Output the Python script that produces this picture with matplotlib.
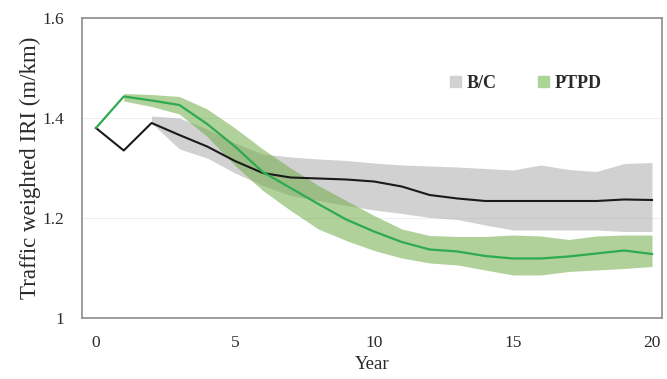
import matplotlib
matplotlib.use("Agg")
import matplotlib.pyplot as plt
from matplotlib.patches import Patch

# data
years = list(range(0, 21))
bc_mean = [1.380, 1.335, 1.390, 1.366, 1.343, 1.314, 1.290, 1.281, 1.279, 1.277, 1.273,
           1.263, 1.246, 1.239, 1.234, 1.234, 1.234, 1.234, 1.234, 1.237, 1.236]
ptpd_mean = [1.380, 1.443, 1.435, 1.426, 1.388, 1.343, 1.292, 1.260, 1.228, 1.197, 1.173,
             1.152, 1.137, 1.133, 1.124, 1.119, 1.119, 1.123, 1.129, 1.135, 1.128]

# bands (B/C starts at year 2, PTPD at year 1)
bc_years = list(range(2, 21))
bc_upper = [1.404, 1.400, 1.378, 1.350, 1.328, 1.322, 1.318, 1.315, 1.310, 1.306, 1.304,
            1.302, 1.299, 1.296, 1.306, 1.297, 1.293, 1.309, 1.311]
bc_lower = [1.390, 1.338, 1.320, 1.290, 1.265, 1.245, 1.235, 1.225, 1.216, 1.209, 1.201,
            1.197, 1.186, 1.176, 1.176, 1.176, 1.176, 1.173, 1.173]

ptpd_years = list(range(1, 21))
ptpd_upper = [1.449, 1.447, 1.443, 1.418, 1.380, 1.338, 1.300, 1.265, 1.235, 1.205, 1.178,
              1.165, 1.163, 1.163, 1.166, 1.164, 1.157, 1.164, 1.166, 1.166]
ptpd_lower = [1.434, 1.423, 1.408, 1.363, 1.305, 1.255, 1.215, 1.178, 1.155, 1.135, 1.120,
              1.110, 1.106, 1.096, 1.086, 1.086, 1.093, 1.096, 1.099, 1.103]

plt.rcParams['font.family'] = ['Liberation Serif', 'DejaVu Serif']

fig = plt.figure(figsize=(6.67, 3.79), dpi=100)
ax = fig.add_axes([0.123, 0.161, 0.8695, 0.7915])

ax.fill_between(bc_years, bc_lower, bc_upper, color='#A5A5A5', alpha=0.5, lw=0)
ax.fill_between(ptpd_years, ptpd_lower, ptpd_upper, color='#70AD47', alpha=0.55, lw=0)
ax.plot(years, bc_mean, color='#1a1a1a', lw=1.5)
ax.plot(years, ptpd_mean, color='#2EAA4F', lw=1.6)

ax.set_xlim(-0.5, 20.36)
ax.set_ylim(1.0, 1.6)
ax.set_xticks([0, 5, 10, 15, 20])
ax.set_yticks([1.0, 1.2, 1.4, 1.6])
ax.set_yticklabels(['1', '1.2', '1.4', '1.6'])
ax.tick_params(length=0, labelsize=12.5, colors='#2a2a2a')
ax.tick_params(axis='x', pad=12)
ax.tick_params(axis='y', pad=13)
ax.grid(axis='y', color='#eeeeee', lw=0.8)
ax.set_axisbelow(True)
for s in ax.spines.values():
    s.set_color('#8c8c8c')
    s.set_linewidth(1.2)

ax.set_xlabel('Year', fontsize=13.5, color='#2a2a2a', labelpad=4)
ax.set_ylabel('Traffic weighted IRI (m/km)', fontsize=16.5, color='#2a2a2a', labelpad=1)

handles = [Patch(color='#d2d2d2'), Patch(color='#a9d595')]
ax.legend(handles, ['B/C', 'PTPD'], ncol=2, frameon=False, loc='center',
          bbox_to_anchor=(0.765, 0.783), handlelength=0.6, handleheight=0.6,
          handletextpad=0.3, columnspacing=2.3,
          prop={'size': 13, 'weight': 'bold'}, labelcolor='#2a2a2a')

fig.savefig('out.png', dpi=100)
